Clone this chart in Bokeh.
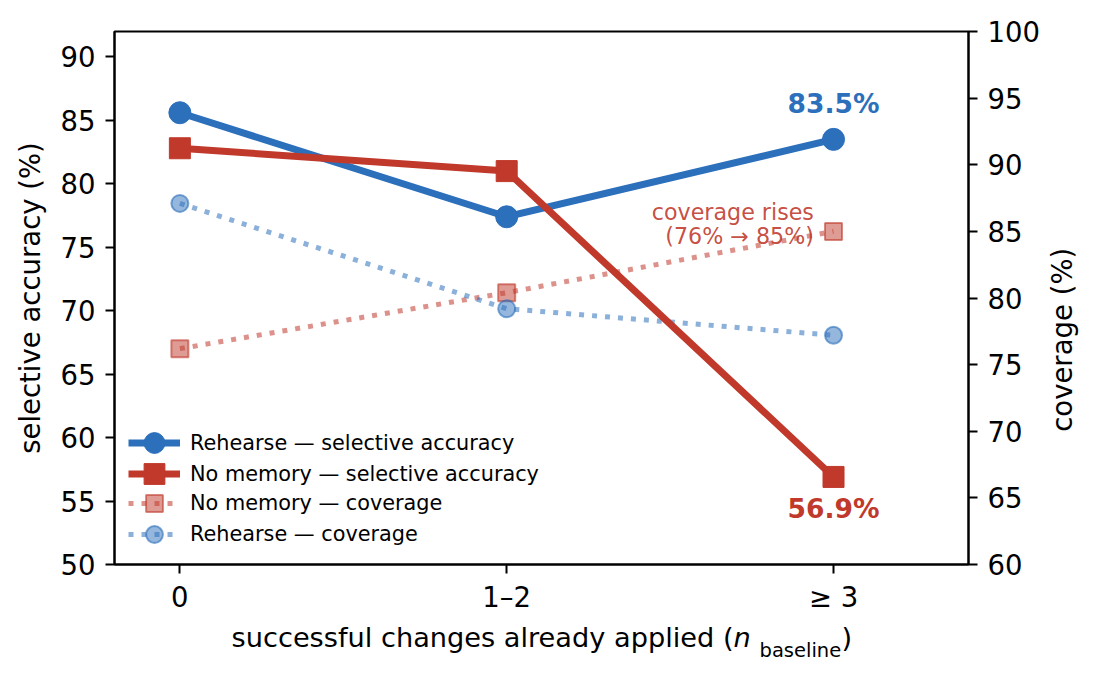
from bokeh.plotting import figure
from bokeh.models import Range1d, LinearAxis, FixedTicker, Label, Legend, LegendItem
from bokeh.layouts import column, row
from bokeh.embed import file_html
from bokeh.resources import INLINE

# ---------------- data ----------------
categories = ["0", "1–2", "≥ 3"]
rehearse_acc = [85.6, 77.4, 83.5]
nomem_acc = [82.8, 81.0, 56.9]
rehearse_cov = [87.1, 79.2, 77.2]
nomem_cov = [76.2, 80.4, 85.0]
left_ticks = [50, 55, 60, 65, 70, 75, 80, 85, 90]
right_ticks = [60, 65, 70, 75, 80, 85, 90, 95, 100]

BLUE = "#2c6fbb"
RED = "#c0392b"
FONT = "DejaVu Sans"
TICK_FS = "27.5px"
LAB_FS = "27.5px"

xs = list(range(len(categories)))

W1, H1 = 1045, 615
p = figure(width=W1, height=H1, output_backend="svg", toolbar_location=None,
           x_range=Range1d(-0.2, 2.413), y_range=Range1d(50, 92),
           min_border_left=114, min_border_right=77, min_border_top=31,
           min_border_bottom=50)
p.extra_y_ranges = {"cov": Range1d(60, 100)}
p.xgrid.visible = False
p.ygrid.visible = False
p.outline_line_color = "black"
p.outline_line_width = 2
p.outline_line_alpha = 1.0
p.background_fill_color = "white"
p.border_fill_color = "white"

right_axis = LinearAxis(y_range_name="cov")
p.add_layout(right_axis, "right")
left_axis = p.left[0]
bottom_axis = p.below[0]

bottom_axis.ticker = FixedTicker(ticks=xs)
bottom_axis.major_label_overrides = {i: c for i, c in enumerate(categories)}
left_axis.ticker = FixedTicker(ticks=left_ticks)
right_axis.ticker = FixedTicker(ticks=right_ticks)

for ax in [bottom_axis, left_axis, right_axis]:
    ax.major_label_text_font = FONT
    ax.major_label_text_font_size = TICK_FS
    ax.major_label_text_color = "black"
    ax.axis_line_color = "black"
    ax.axis_line_width = 2
    ax.major_tick_line_color = "black"
    ax.major_tick_line_width = 2
    ax.major_tick_out = 9
    ax.major_tick_in = 0
    ax.minor_tick_line_color = None
    ax.major_label_standoff = 10
bottom_axis.major_label_standoff = 7

left_axis.axis_label = "selective accuracy (%)"
left_axis.axis_label_text_font = FONT
left_axis.axis_label_text_font_size = LAB_FS
left_axis.axis_label_text_font_style = "normal"
left_axis.axis_label_text_color = "black"
left_axis.axis_label_standoff = 12

# ---------------- glyphs ----------------
nc_line = p.line(xs, nomem_cov, y_range_name="cov", line_color=RED, line_alpha=0.55,
                 line_width=5, line_dash="5 8")
nc_pts = p.scatter(xs, nomem_cov, y_range_name="cov", marker="square", size=17,
                   fill_color=RED, fill_alpha=0.5, line_color=RED, line_alpha=0.6, line_width=2)
rc_line = p.line(xs, rehearse_cov, y_range_name="cov", line_color=BLUE, line_alpha=0.55,
                 line_width=5, line_dash="5 8")
rc_pts = p.scatter(xs, rehearse_cov, y_range_name="cov", marker="circle", size=17,
                   fill_color=BLUE, fill_alpha=0.5, line_color=BLUE, line_alpha=0.6, line_width=2)

ra_line = p.line(xs, rehearse_acc, line_color=BLUE, line_width=7)
ra_pts = p.scatter(xs, rehearse_acc, marker="circle", size=22, fill_color=BLUE, line_color=BLUE)
na_line = p.line(xs, nomem_acc, line_color=RED, line_width=7)
na_pts = p.scatter(xs, nomem_acc, marker="square", size=21, fill_color=RED, line_color=RED)

# ---------------- legends (one per row, for marker sizes) ----------------
def add_legend(label, renderers, gh, loc):
    lg = Legend(items=[LegendItem(label=label, renderers=renderers)], location=loc,
                glyph_width=52, glyph_height=gh, spacing=0, margin=0, padding=0,
                label_standoff=10, border_line_color=None, background_fill_alpha=0,
                label_text_font=FONT, label_text_font_size="20.8px",
                label_text_color="black", label_height=20)
    p.add_layout(lg, "center")

add_legend("Rehearse — selective accuracy", [ra_line, ra_pts], 55, (14, 94))
add_legend("No memory — selective accuracy", [na_line, na_pts], 55, (14, 63))
add_legend("No memory — coverage", [nc_line, nc_pts], 42, (14, 40))
add_legend("Rehearse — coverage", [rc_line, rc_pts], 42, (14, 9))

# ---------------- annotations ----------------
p.add_layout(Label(x=xs[2], y=rehearse_acc[2] + 2.8, text=f"{rehearse_acc[2]:.1f}%",
                   text_align="center", text_baseline="alphabetic", text_color=BLUE,
                   text_font=FONT, text_font_style="bold", text_font_size="26.5px"))
p.add_layout(Label(x=xs[2], y=nomem_acc[2] - 2.5, text=f"{nomem_acc[2]:.1f}%",
                   text_align="center", text_baseline="alphabetic", text_color=RED,
                   text_font=FONT, text_font_style="bold", text_font_size="26.5px"))
p.add_layout(Label(x=1.94, y=86.49, y_range_name="cov", text="coverage rises",
                   text_align="right", text_baseline="alphabetic", text_color=RED,
                   text_alpha=0.9, text_font=FONT, text_font_size="22.2px"))
p.add_layout(Label(x=1.94, y=84.62, y_range_name="cov",
                   text=f"({nomem_cov[0]:.0f}% → {nomem_cov[2]:.0f}%)",
                   text_align="right", text_baseline="alphabetic", text_color=RED,
                   text_alpha=0.9, text_font=FONT, text_font_size="22.2px"))

# ---------------- strip figures for axis titles ----------------
def strip(w, h, xr, yr):
    f = figure(width=w, height=h, output_backend="svg", toolbar_location=None,
               x_range=xr, y_range=yr, x_axis_type=None, y_axis_type=None,
               min_border=0, min_border_left=0, min_border_right=0,
               min_border_top=0, min_border_bottom=0)
    f.outline_line_color = None
    f.background_fill_color = "white"
    f.border_fill_color = "white"
    for g in f.grid:
        g.visible = False
    return f

H2 = 676 - H1
# frame of this strip is aligned with the main frame horizontally (114..968)
bottom = strip(W1, H2, Range1d(114, 968), Range1d(H2, 0))

def blabel(x, y, text, **kw):
    opts = dict(x=x, y=y, text=text, text_font=FONT, text_font_size="27.2px",
                text_color="black", text_baseline="alphabetic")
    opts.update(kw)
    bottom.add_layout(Label(**opts))

blabel(733, 22, "successful changes already applied (", text_align="right")
blabel(733, 22, "n", text_align="left", text_font_style="italic")
blabel(759, 35, "baseline", text_align="left", text_font_size="19.5px")
blabel(841, 22, ")", text_align="left")

W3 = 1100 - W1
# frame of this strip is aligned with the main frame vertically (31..565)
right = strip(W3, 676, Range1d(0, W3), Range1d(565, 31))
right.add_layout(Label(x=16, y=299, text="coverage (%)", angle=90, angle_units="deg",
                       text_align="center", text_baseline="middle", text_font=FONT,
                       text_font_size=LAB_FS, text_color="black"))

layout = row(column(p, bottom), right)
open("out.html", "w").write(file_html(layout, INLINE))
